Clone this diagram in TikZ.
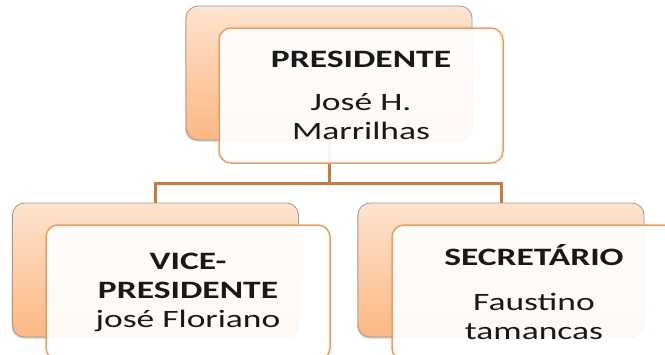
\documentclass[tikz,border=0pt]{standalone}
\usepackage{fontspec}
\setmainfont{Carlito}[FakeStretch=1.42]
\usetikzlibrary{positioning,shadows}
\definecolor{peachtop}{HTML}{FEE3CE}
\definecolor{peachbot}{HTML}{FBB883}
\definecolor{boxline}{HTML}{F79B55}
\definecolor{linkcol}{HTML}{C77A3A}
\definecolor{backline}{HTML}{9A9A9A}
\begin{document}
\begin{tikzpicture}[x=1pt,y=-1pt,
  backbox/.style={draw=backline,line width=0.8pt,rounded corners=12pt,
    top color=peachtop,bottom color=peachbot,
    minimum width=286pt,minimum height=134pt,
    drop shadow={shadow xshift=-1pt,shadow yshift=-1.5pt,opacity=0.35}},
  frontbox/.style={draw=boxline,line width=1.5pt,rounded corners=12pt,
    fill=white,fill opacity=0.92,text opacity=1,
    minimum width=284pt,minimum height=135pt,align=center,
    font=\fontsize{25}{29}\selectfont,text=black!90},
  link/.style={draw=linkcol,line width=3pt}]
\useasboundingbox (0,0) rectangle (665,354);

% back cards
\node[backbox] (pres-back) at (329,73) {};
\node[backbox] (vp-back) at (155.5,270) {};
\node[backbox] (sec-back) at (501,270) {};

% links
\coordinate (split) at (329,183);
\draw[link] (pres-back.south) -- (split);
\draw[link] (vp-back.north) |- (split) -| (sec-back.north);

% front cards
\node[frontbox] (pres) at (361,95.5) {\textbf{PRESIDENTE}\\[14pt] José H.\\ Marrilhas};
\node[frontbox] (vp) at (188,292.5) {\textbf{VICE-}\\ \textbf{PRESIDENTE}\\ josé Floriano};
\node[frontbox] (sec) at (534,292.5) {\textbf{SECRETÁRIO}\\[16pt] Faustino\\ tamancas};
\end{tikzpicture}
\end{document}
